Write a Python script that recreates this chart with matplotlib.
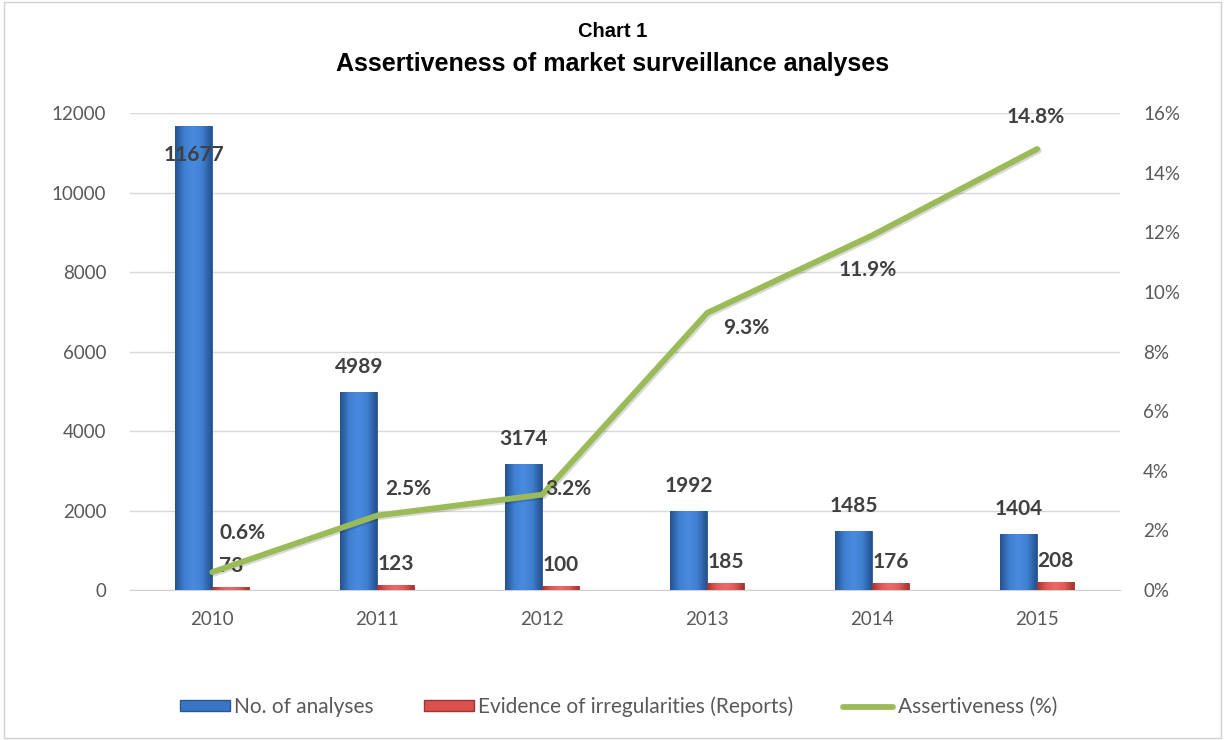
import matplotlib
matplotlib.use("Agg")
import matplotlib.pyplot as plt
import numpy as np
from matplotlib.patches import Rectangle
from matplotlib.lines import Line2D
import matplotlib.patheffects as pe
from matplotlib.colors import LinearSegmentedColormap

years = ["2010", "2011", "2012", "2013", "2014", "2015"]
analyses = [11677, 4989, 3174, 1992, 1485, 1404]
reports = [73, 123, 100, 185, 176, 208]
assertiveness = [0.6, 2.5, 3.2, 9.3, 11.9, 14.8]
left_ticks = [0, 2000, 4000, 6000, 8000, 10000, 12000]
right_ticks = [0, 2, 4, 6, 8, 10, 12, 14, 16]

# per-label offsets (points) for percentage labels
pct_offsets = [(22, 28), (22, 19), (19, 4), (28, -11), (-3, -25), (-1, 23)]

plt.rcParams["font.family"] = ["Lato", "DejaVu Sans"]

fig = plt.figure(figsize=(12.25, 7.4), dpi=100)
fig.patches.append(Rectangle((0.003, 0.003), 0.994, 0.994, transform=fig.transFigure,
                             fill=False, edgecolor="#d0d0d0", linewidth=1.0))

ax = fig.add_axes([0.106, 0.2027, 0.808, 0.6443])
ax2 = ax.twinx()
ax.set_zorder(1)
ax2.set_zorder(2)
ax2.patch.set_visible(False)

x = np.arange(len(years))
w = 0.224
b1 = ax.bar(x - w / 2, analyses, w, color="#3a74c4", edgecolor="#2a5790", linewidth=0.6, zorder=3)
b2 = ax.bar(x + w / 2, reports, w, color="#d9514e", edgecolor="#9c3432", linewidth=0.6, zorder=3)

blue_cmap = LinearSegmentedColormap.from_list("b", ["#24518f", "#3f7fd0", "#4a8be0", "#3f7fd0", "#24518f"])
red_cmap = LinearSegmentedColormap.from_list("r", ["#a33532", "#e05a57", "#ea6b68", "#e05a57", "#a33532"])
grad = np.linspace(0, 1, 64).reshape(1, -1)
for bars, cm in ((b1, blue_cmap), (b2, red_cmap)):
    for p in bars:
        x0, y0 = p.get_x(), p.get_y()
        ww, hh = p.get_width(), p.get_height()
        im = ax.imshow(grad, cmap=cm, aspect="auto", extent=(x0, x0 + ww, y0, y0 + hh),
                       zorder=3.5, interpolation="bicubic")
        im.set_clip_path(p)

ax.set_xlim(-0.5, len(years) - 0.5)
ax.set_ylim(0, 12000)
ax.set_yticks(left_ticks)
ax.set_xticks(x)
ax.set_xticklabels(years)
ax.yaxis.grid(True, color="#d9d9d9", linewidth=1.0, zorder=0)
ax.set_axisbelow(True)
for s in ["top", "left", "right"]:
    ax.spines[s].set_visible(False)
ax.spines["bottom"].set_color("#d0d0d0")
ax.tick_params(axis="both", length=0, labelsize=13.5, colors="#595959")
ax.tick_params(axis="y", pad=17)
ax.tick_params(axis="x", pad=15)

ax2.set_ylim(0, 16)
ax2.set_yticks(right_ticks)
ax2.set_yticklabels([f"{t}%" for t in right_ticks])
for s in ["top", "left", "right", "bottom"]:
    ax2.spines[s].set_visible(False)
ax2.tick_params(axis="y", length=0, labelsize=13.5, colors="#595959", pad=17)

ax2.plot(x, assertiveness, color="#9bbb59", linewidth=4.2, solid_capstyle="round", zorder=5,
         path_effects=[pe.SimpleLineShadow(offset=(1.2, -1.2), alpha=0.15), pe.Normal()])

lab_kw = dict(fontsize=15, fontweight="bold", color="#404040")
for i, v in enumerate(analyses):
    if v > 10000:
        ax.annotate(str(v), (x[i] - w / 2, v), xytext=(0, -21), textcoords="offset points",
                    ha="center", va="center", zorder=6, **lab_kw)
    else:
        ax.annotate(str(v), (x[i] - w / 2, v), xytext=(0, 18), textcoords="offset points",
                    ha="center", va="center", zorder=6, **lab_kw)
for i, v in enumerate(reports):
    ax.annotate(str(v), (x[i] + w / 2, v), xytext=(0, 15), textcoords="offset points",
                ha="center", va="center", zorder=6, **lab_kw)
for i, v in enumerate(assertiveness):
    ax2.annotate(f"{v}%", (x[i], v), xytext=pct_offsets[i], textcoords="offset points",
                 ha="center", va="center", zorder=6, **lab_kw)

fig.text(0.5, 0.958, "Chart 1", ha="center", va="center", fontsize=14.5, fontweight="bold",
         family="Liberation Sans", color="black")
fig.text(0.5, 0.914, "Assertiveness of market surveillance analyses", ha="center", va="center",
         fontsize=18, fontweight="bold", family="Liberation Sans", color="black")

handles = [Rectangle((0, 0), 1, 1, facecolor="#3a74c4", edgecolor="#2a5790"),
           Rectangle((0, 0), 1, 1, facecolor="#d9514e", edgecolor="#9c3432"),
           Line2D([0], [0], color="#9bbb59", linewidth=4.2, solid_capstyle="round")]
labels = ["No. of analyses", "Evidence of irregularities (Reports)", "Assertiveness (%)"]
leg = fig.legend(handles, labels, loc="center", bbox_to_anchor=(0.505, 0.045), ncol=3,
                 frameon=False, fontsize=15, handlelength=2.4, handleheight=0.4,
                 handletextpad=0.2, columnspacing=2.4, labelcolor="#595959")

fig.savefig("out.png", dpi=100)
